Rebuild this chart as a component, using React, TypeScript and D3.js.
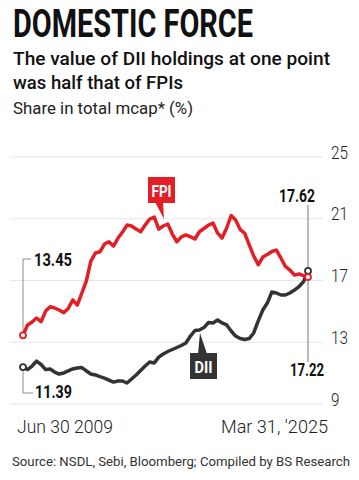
import React from 'react';
import * as d3 from 'd3';

// quarterly share in total mcap (%), Jun 2009 -> Mar 2025
const fpiValues = [
  13.45, 14.12, 14.31, 14.57, 14.33, 15.02, 15.3, 15.22, 15.09, 14.91,
  15.19, 15.74, 15.41, 16.19, 16.97, 18.26, 18.78, 18.86, 19.36, 19.51,
  19.23, 19.75, 20.14, 20.59, 20.53, 20.33, 20.16, 20.59, 20.98, 21.11,
  20.33, 20.53, 20.66, 20.01, 19.51, 19.82, 19.95, 19.82, 19.69, 20.16,
  20.37, 20.59, 20.72, 20.08, 19.75, 20.4, 21.21, 20.92, 20.3, 20.06,
  19.3, 18.59, 18.02, 18.52, 18.68, 18.88, 18.97, 18.46, 17.91, 17.68,
  17.35, 17.42, 17.32, 17.22,
];

const diiValues = [
  11.39, 11.23, 11.46, 11.78, 11.56, 11.23, 11.27, 11.07, 10.94, 11.01,
  11.14, 11.27, 11.33, 11.36, 11.14, 10.94, 10.88, 10.77, 10.68, 10.55,
  10.42, 10.49, 10.49, 10.36, 10.62, 10.88, 11.17, 11.46, 11.72, 11.66,
  12.04, 12.24, 12.4, 12.53, 12.66, 12.79, 12.95, 13.4, 13.76, 13.79,
  13.95, 14.28, 14.25, 14.44, 14.25, 14.12, 13.73, 13.4, 13.24, 13.18,
  13.24, 13.6, 14.38, 15.09, 15.54, 16.25, 16.19, 16.06, 16.06, 16.19,
  16.38, 16.61, 16.93, 17.62,
];

const yTicks = [9, 13, 17, 21, 25];
const xLabels = ['Jun 30 2009', "Mar 31, '2025"];
const startDate = new Date(2009, 5, 30);
const quarters = d3.range(fpiValues.length).map((i) => d3.timeMonth.offset(startDate, i * 3));

const RED = '#e21f26';
const DARK = '#333333';
const GREY = '#8c8c8c';
const FONT = 'Roboto, "Open Sans", sans-serif';

if (typeof document !== 'undefined') document.body.style.margin = '0';

const App: React.FC = () => {
  const width = 359;
  const height = 480;

  const xScale = d3
    .scaleTime()
    .domain([quarters[0], quarters[quarters.length - 1]])
    .range([23, 308]);
  const yScale = d3.scaleLinear().domain([9, 25]).range([404, 157]);

  const line = d3
    .line<number>()
    .x((_, i) => xScale(quarters[i]))
    .y((d) => yScale(d));

  const last = quarters.length - 1;
  const x0 = xScale(quarters[0]);
  const xN = xScale(quarters[last]);

  return (
    <svg width={width} height={height} style={{ display: 'block', background: '#fff' }} fontFamily={FONT}>
      {/* headings */}
      <text x={13} y={37} fontSize={38} fontWeight={700} fill="#111" textLength={240} lengthAdjust="spacingAndGlyphs">
        DOMESTIC FORCE
      </text>
      <text x={13} y={64.5} fontSize={18.5} fontWeight={500} fill="#111" textLength={317} lengthAdjust="spacingAndGlyphs">
        The value of DII holdings at one point
      </text>
      <text x={13} y={89} fontSize={18.5} fontWeight={500} fill="#111" textLength={170} lengthAdjust="spacingAndGlyphs">
        was half that of FPIs
      </text>
      <text x={13} y={113.5} fontSize={16.5} fontWeight={400} fill="#222" textLength={180} lengthAdjust="spacingAndGlyphs">
        Share in total mcap* (%)
      </text>

      {/* grid + y labels */}
      {yTicks.map((t) => (
        <g key={t}>
          <line x1={10} x2={323} y1={yScale(t)} y2={yScale(t)} stroke="#e6e6e6" strokeWidth={1} />
          <text
            x={331}
            y={yScale(t) + 1.5}
            fontSize={18.5}
            fontWeight={300}
            fill="#222"
            textLength={String(t).length * 8.5}
            lengthAdjust="spacingAndGlyphs"
          >
            {t}
          </text>
        </g>
      ))}

      {/* x labels */}
      <text x={17} y={432.5} fontSize={18} fontWeight={300} fill="#222" textLength={96} lengthAdjust="spacingAndGlyphs">
        {xLabels[0]}
      </text>
      <text x={221} y={432.5} fontSize={18} fontWeight={300} fill="#222" textLength={107} lengthAdjust="spacingAndGlyphs">
        {xLabels[1]}
      </text>

      {/* source */}
      <text x={12} y={466} fontSize={13.5} fill="#333" textLength={338} lengthAdjust="spacingAndGlyphs">
        Source: NSDL, Sebi, Bloomberg; Compiled by BS Research
      </text>

      {/* leader lines */}
      <path d={`M${x0},${yScale(fpiValues[0]) - 4}V259H31`} fill="none" stroke={GREY} strokeWidth={1} />
      <path d={`M${x0},${yScale(diiValues[0]) + 4}V393H33`} fill="none" stroke={GREY} strokeWidth={1} />
      <line x1={xN} x2={xN} y1={205} y2={362} stroke={GREY} strokeWidth={1.2} />

      {/* series */}
      <path d={line(diiValues) || ''} fill="none" stroke={DARK} strokeWidth={3.5} strokeLinejoin="round" strokeLinecap="round" />
      <path d={line(fpiValues) || ''} fill="none" stroke={RED} strokeWidth={3.5} strokeLinejoin="round" strokeLinecap="round" />

      {/* end markers */}
      <circle cx={x0} cy={yScale(fpiValues[0])} r={3} fill="#fff" stroke={RED} strokeWidth={1.8} />
      <circle cx={x0} cy={yScale(diiValues[0])} r={3} fill="#fff" stroke={DARK} strokeWidth={1.8} />
      <circle cx={xN} cy={yScale(diiValues[last])} r={3} fill="#fff" stroke={DARK} strokeWidth={1.8} />
      <circle cx={xN} cy={yScale(fpiValues[last])} r={3} fill="#fff" stroke={RED} strokeWidth={1.8} />

      {/* value labels */}
      <text x={34} y={266} fontSize={18} fontWeight={700} fill="#111" textLength={38} lengthAdjust="spacingAndGlyphs">
        {fpiValues[0].toFixed(2)}
      </text>
      <text x={35} y={398} fontSize={18} fontWeight={700} fill="#111" textLength={37} lengthAdjust="spacingAndGlyphs">
        {diiValues[0].toFixed(2)}
      </text>
      <text x={279} y={201.5} fontSize={18} fontWeight={700} fill="#111" textLength={36} lengthAdjust="spacingAndGlyphs">
        {diiValues[last].toFixed(2)}
      </text>
      <text x={290} y={376} fontSize={18} fontWeight={700} fill="#111" textLength={34} lengthAdjust="spacingAndGlyphs">
        {fpiValues[last].toFixed(2)}
      </text>

      {/* series tags */}
      <rect x={148} y={177} width={27} height={26} fill={RED} />
      <polygon points="155,202 163,202 164,219" fill={RED} />
      <text x={161.5} y={197} fontSize={17} fontWeight={700} fill="#fff" textAnchor="middle" textLength={20} lengthAdjust="spacingAndGlyphs">
        FPI
      </text>
      <rect x={190} y={353} width={27} height={26} fill={DARK} />
      <polygon points="198,354 207,354 200,333" fill={DARK} />
      <text x={203.5} y={373} fontSize={17} fontWeight={700} fill="#fff" textAnchor="middle" textLength={18} lengthAdjust="spacingAndGlyphs">
        DII
      </text>
    </svg>
  );
};

export default App;
